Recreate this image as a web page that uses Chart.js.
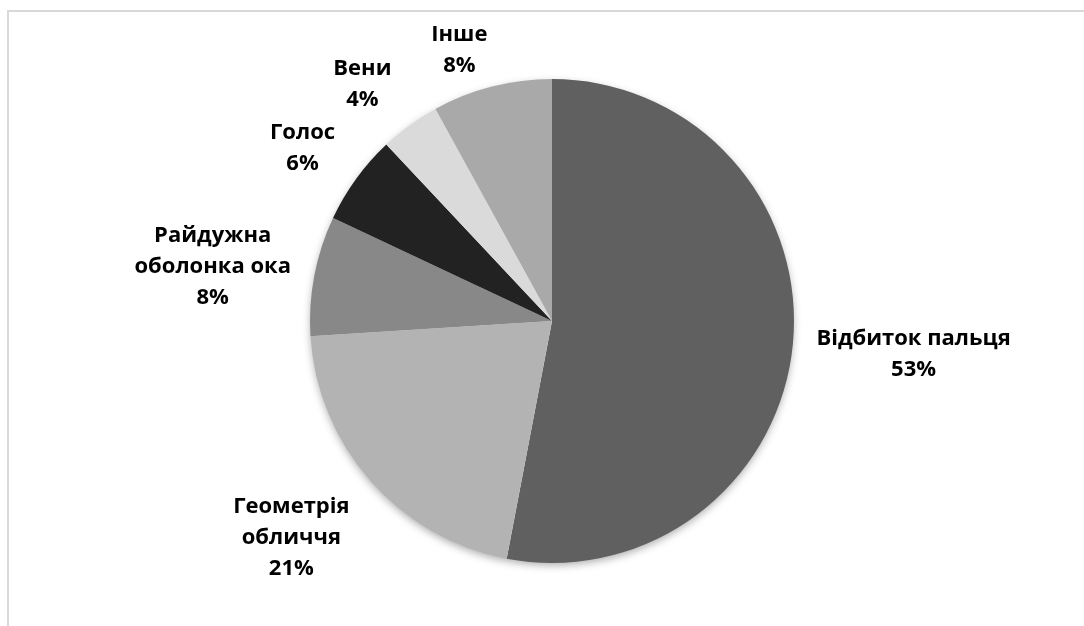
<!DOCTYPE html>
<html>
<head>
<meta charset="utf-8">
<script src="https://cdn.jsdelivr.net/npm/chart.js@4.4.0/dist/chart.umd.min.js"></script>
<style>
  html, body { margin: 0; padding: 0; background: #fff; }
  #wrap { position: relative; width: 1084px; height: 626px; }
</style>
</head>
<body>
<div id="wrap"><canvas id="pieChart" width="1084" height="626"></canvas></div>
<script>
// data
const categories = [
  ['Відбиток пальця'],
  ['Геометрія', 'обличчя'],
  ['Райдужна', 'оболонка ока'],
  ['Голос'],
  ['Вени'],
  ['Інше']
];
const shares = [53, 21, 8, 6, 4, 8];
const sliceColors = ['#606060', '#b3b3b3', '#888888', '#222222', '#dadada', '#a9a9a9'];

// small nudges for label placement, [dx, dy]
const labelNudge = [[10, 6], [-25, 17], [-11, 2], [-16, -4], [-22, -5], [-22, 7]];
const labelFont = 'bold 22px "Open Sans"';
const lineH = 31;

const framePlugin = {
  id: 'frame',
  beforeDraw(chart) {
    const ctx = chart.ctx;
    ctx.save();
    ctx.strokeStyle = '#d9d9d9';
    ctx.lineWidth = 2;
    ctx.beginPath();
    ctx.moveTo(8, chart.height);
    ctx.lineTo(8, 11);
    ctx.lineTo(chart.width, 11);
    ctx.stroke();
    ctx.restore();
  }
};

const shadowPlugin = {
  id: 'pieShadow',
  beforeDatasetsDraw(chart) {
    const arc = chart.getDatasetMeta(0).data[0];
    if (!arc) return;
    const { x, y, outerRadius } = arc.getProps(['x', 'y', 'outerRadius'], true);
    const ctx = chart.ctx;
    ctx.save();
    ctx.shadowColor = 'rgba(0,0,0,0.35)';
    ctx.shadowBlur = 9;
    ctx.shadowOffsetY = 3;
    ctx.fillStyle = '#fff';
    ctx.beginPath();
    ctx.arc(x, y, outerRadius - 1, 0, Math.PI * 2);
    ctx.fill();
    ctx.restore();
  }
};

const labelPlugin = {
  id: 'outLabels',
  afterDatasetsDraw(chart) {
    const ctx = chart.ctx;
    const ds = chart.data.datasets[0];
    ctx.save();
    ctx.font = labelFont;
    ctx.fillStyle = '#000';
    ctx.textAlign = 'center';
    ctx.textBaseline = 'middle';
    chart.getDatasetMeta(0).data.forEach((arc, i) => {
      const p = arc.getProps(['x', 'y', 'startAngle', 'endAngle', 'outerRadius'], true);
      const mid = (p.startAngle + p.endAngle) / 2;
      const ux = Math.cos(mid), uy = Math.sin(mid);
      const lines = chart.data.labels[i].concat([ds.data[i] + '%']);
      const w = Math.max(...lines.map(l => ctx.measureText(l).width));
      const h = lines.length * lineH;
      const d = p.outerRadius + 14;
      const cx = p.x + ux * d + ux * w / 2 + labelNudge[i][0];
      const cy = p.y + uy * d + uy * h / 2 + labelNudge[i][1];
      lines.forEach((l, k) => {
        ctx.fillText(l, cx, cy - h / 2 + lineH * (k + 0.5));
      });
    });
    ctx.restore();
  }
};

const ctx = document.getElementById('pieChart').getContext('2d');
new Chart(ctx, {
  type: 'pie',
  data: {
    labels: categories,
    datasets: [{
      data: shares,
      backgroundColor: sliceColors,
      borderWidth: 0
    }]
  },
  options: {
    responsive: false,
    animation: false,
    layout: {
      padding: { left: 310, right: 290, top: 79, bottom: 63 }
    },
    plugins: {
      legend: { display: false },
      tooltip: { enabled: false }
    }
  },
  plugins: [framePlugin, shadowPlugin, labelPlugin]
});
</script>
</body>
</html>
